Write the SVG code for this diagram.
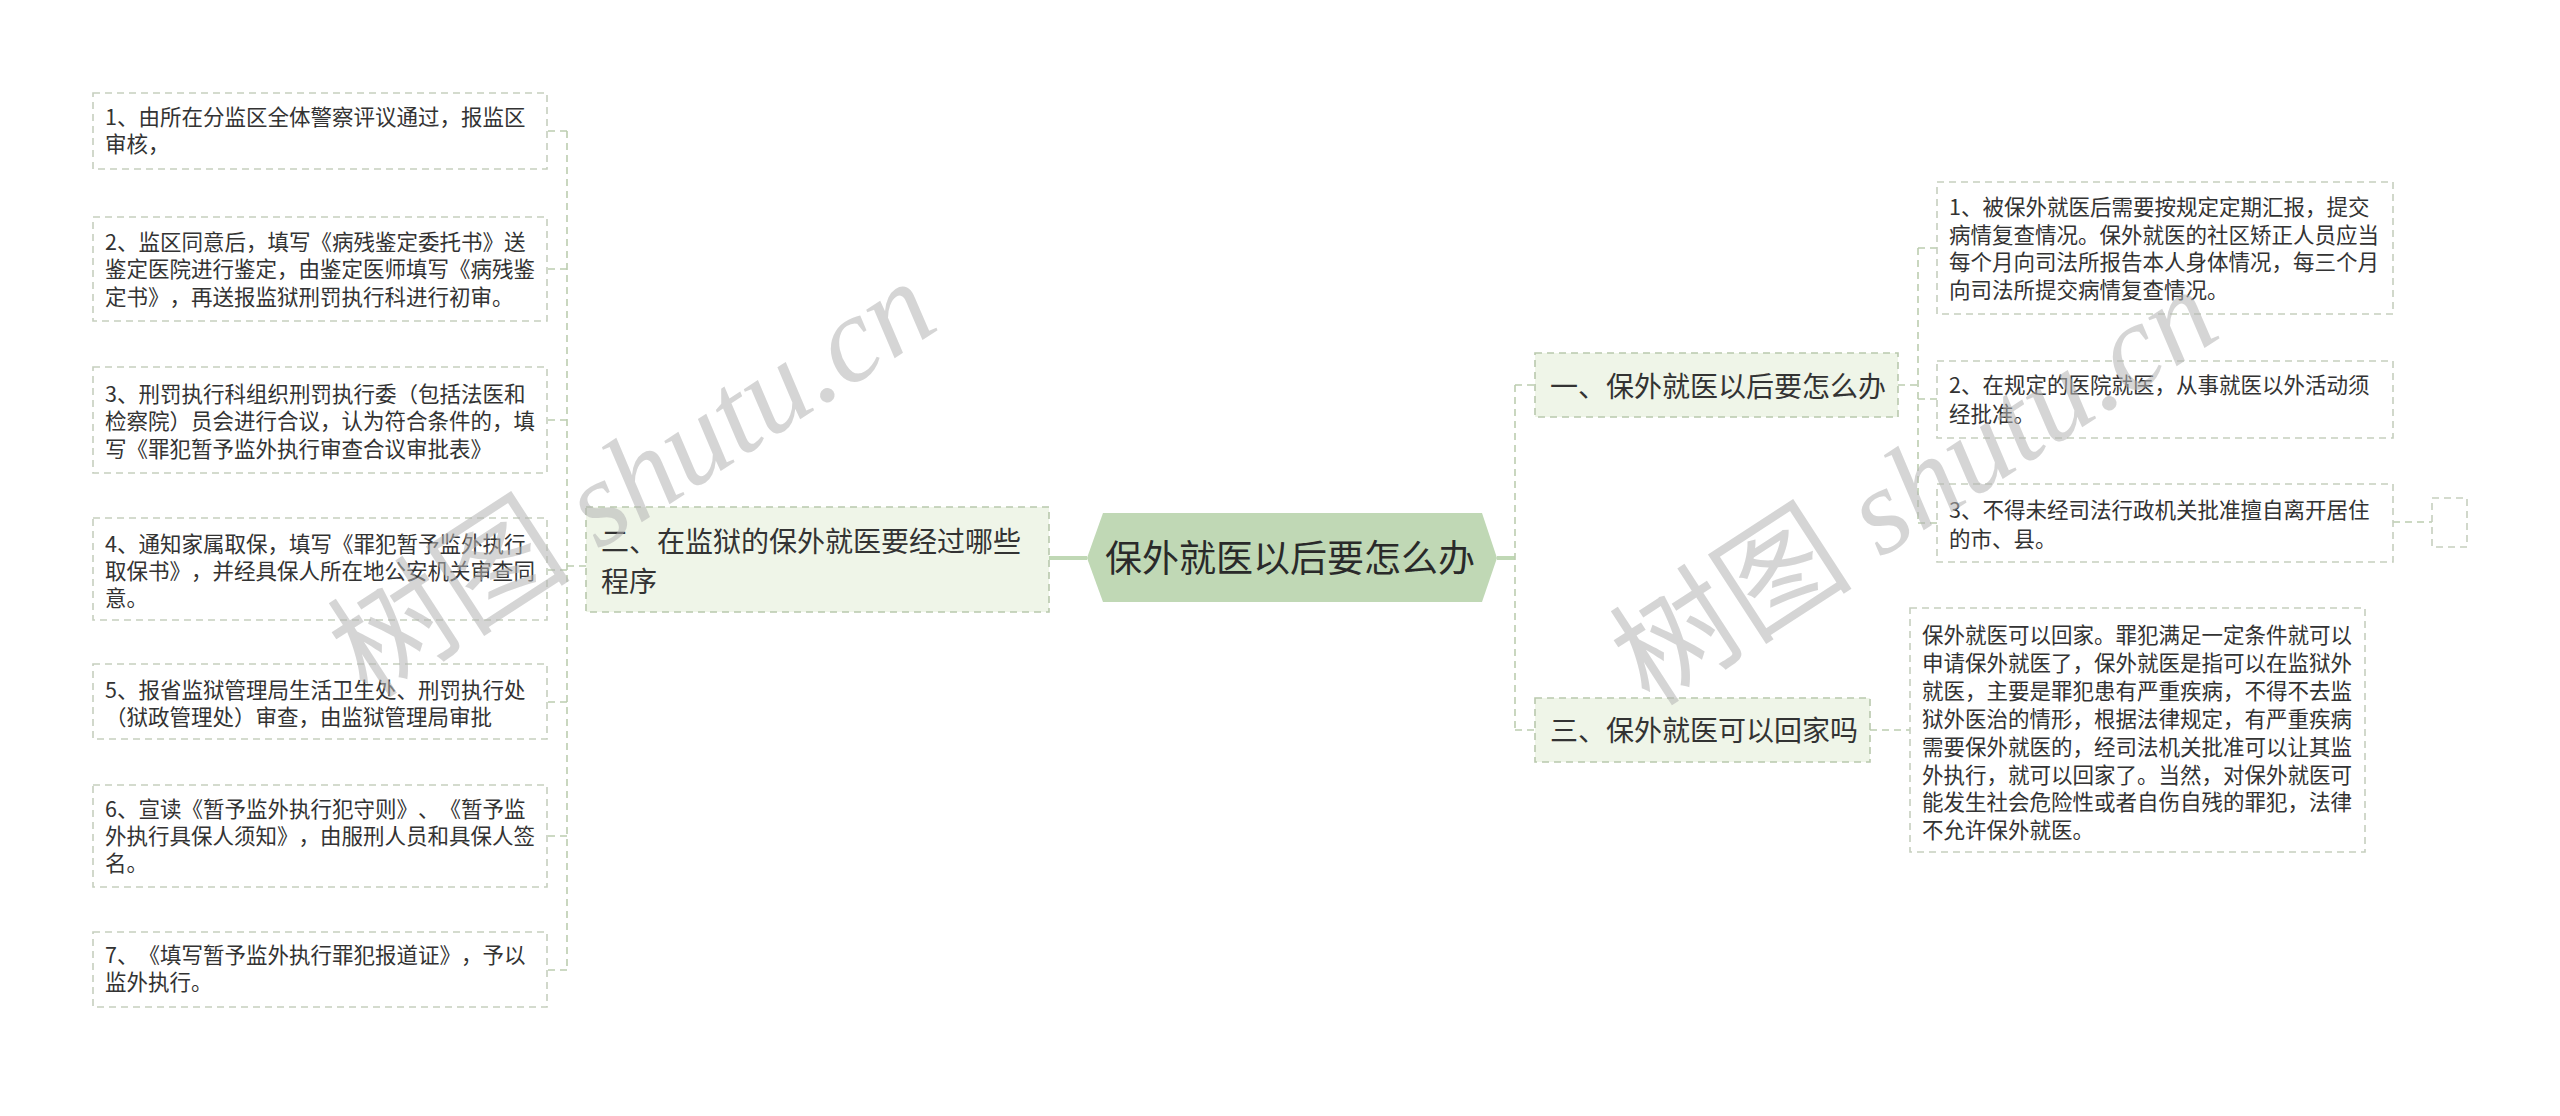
<svg xmlns="http://www.w3.org/2000/svg" width="2560" height="1116" viewBox="0 0 2560 1116">
<style>
text{text-spacing-trim:space-all}
.leaf{fill:#ffffff;stroke:#c6cfbf;stroke-width:1.6;stroke-dasharray:7 5}
.branch{fill:#eff5e8;stroke:#b9c9ad;stroke-width:1.6;stroke-dasharray:7 5}
.lt{font-family:"Noto Sans CJK SC","Noto Sans",sans-serif;font-size:21.5px;fill:#333333}
.bt{font-family:"Noto Sans CJK SC","Noto Sans",sans-serif;font-size:28px;fill:#333333}
.ct{font-family:"Noto Sans CJK SC","Noto Sans",sans-serif;font-size:37px;fill:#2a2a2a}
.dash{fill:none;stroke:#bccdb0;stroke-width:1.6;stroke-dasharray:7 5}
.solid{fill:none;stroke:#c0d8b5;stroke-width:4}
.wm{font-family:"Liberation Serif","Noto Sans CJK SC",serif;font-size:122px;fill:#b4b4b4;opacity:0.55}
</style>

<g id="connectors">
  <path class="solid" d="M1049,558 L1087,558"/>
  <path class="solid" d="M1497,558 L1515,558"/>
  <path class="dash" d="M586,566 L567,566"/>
  <path class="dash" d="M567,131 L567,970"/>
  <path class="dash" d="M567,131 L547,131"/>
  <path class="dash" d="M567,269 L547,269"/>
  <path class="dash" d="M567,420 L547,420"/>
  <path class="dash" d="M567,570 L547,570"/>
  <path class="dash" d="M567,702 L547,702"/>
  <path class="dash" d="M567,836 L547,836"/>
  <path class="dash" d="M567,970 L547,970"/>
  <path class="dash" d="M1515,385 L1515,730"/>
  <path class="dash" d="M1515,385 L1535,385"/>
  <path class="dash" d="M1515,730 L1535,730"/>
  <path class="dash" d="M1898,385 L1918,385"/>
  <path class="dash" d="M1918,248 L1918,523"/>
  <path class="dash" d="M1918,248 L1937,248"/>
  <path class="dash" d="M1918,399 L1937,399"/>
  <path class="dash" d="M1918,523 L1937,523"/>
  <path class="dash" d="M2393,522 L2432,522"/>
  <path class="dash" d="M1870,730 L1910,730"/>
</g>

<g id="center">
  <polygon points="1087,558 1103,513 1482,513 1497,558 1482,602 1103,602" fill="#c0d8b5"/>
  <text class="ct" x="1290" y="572" text-anchor="middle">保外就医以后要怎么办</text>
</g>

<g id="b2">
  <rect class="branch" x="586" y="507" width="463" height="105"/>
  <text class="bt" x="601" y="552">二、在监狱的保外就医要经过哪些</text>
  <text class="bt" x="601" y="592">程序</text>
</g>

<g id="b1">
  <rect class="branch" x="1535" y="353" width="363" height="64"/>
  <text class="bt" x="1550" y="397">一、保外就医以后要怎么办</text>
</g>

<g id="b3">
  <rect class="branch" x="1535" y="698" width="335" height="64"/>
  <text class="bt" x="1550" y="741">三、保外就医可以回家吗</text>
</g>

<g id="l1">
  <rect class="leaf" x="93" y="93" width="454" height="76"/>
  <text class="lt" x="105" y="125">1、由所在分监区全体警察评议通过，报监区</text>
  <text class="lt" x="105" y="152">审核，</text>
</g>
<g id="l2">
  <rect class="leaf" x="93" y="217" width="454" height="104"/>
  <text class="lt" x="105" y="250">2、监区同意后，填写《病残鉴定委托书》送</text>
  <text class="lt" x="105" y="277">鉴定医院进行鉴定，由鉴定医师填写《病残鉴</text>
  <text class="lt" x="105" y="305">定书》，再送报监狱刑罚执行科进行初审。</text>
</g>
<g id="l3">
  <rect class="leaf" x="93" y="367" width="454" height="106"/>
  <text class="lt" x="105" y="402">3、刑罚执行科组织刑罚执行委（包括法医和</text>
  <text class="lt" x="105" y="429">检察院）员会进行合议，认为符合条件的，填</text>
  <text class="lt" x="105" y="457">写《罪犯暂予监外执行审查合议审批表》</text>
</g>
<g id="l4">
  <rect class="leaf" x="93" y="518" width="454" height="102"/>
  <text class="lt" x="105" y="552">4、通知家属取保，填写《罪犯暂予监外执行</text>
  <text class="lt" x="105" y="579">取保书》，并经具保人所在地公安机关审查同</text>
  <text class="lt" x="105" y="606">意。</text>
</g>
<g id="l5">
  <rect class="leaf" x="93" y="664" width="454" height="75"/>
  <text class="lt" x="105" y="698">5、报省监狱管理局生活卫生处、刑罚执行处</text>
  <text class="lt" x="105" y="725">（狱政管理处）审查，由监狱管理局审批</text>
</g>
<g id="l6">
  <rect class="leaf" x="93" y="785" width="454" height="102"/>
  <text class="lt" x="105" y="817">6、宣读《暂予监外执行犯守则》、《暂予监</text>
  <text class="lt" x="105" y="844">外执行具保人须知》，由服刑人员和具保人签</text>
  <text class="lt" x="105" y="871">名。</text>
</g>
<g id="l7">
  <rect class="leaf" x="93" y="932" width="454" height="75"/>
  <text class="lt" x="105" y="963">7、《填写暂予监外执行罪犯报道证》，予以</text>
  <text class="lt" x="105" y="990">监外执行。</text>
</g>

<g id="r1">
  <rect class="leaf" x="1937" y="182" width="456" height="132"/>
  <text class="lt" x="1949" y="215">1、被保外就医后需要按规定定期汇报，提交</text>
  <text class="lt" x="1949" y="243">病情复查情况。保外就医的社区矫正人员应当</text>
  <text class="lt" x="1949" y="270">每个月向司法所报告本人身体情况，每三个月</text>
  <text class="lt" x="1949" y="298">向司法所提交病情复查情况。</text>
</g>
<g id="r2">
  <rect class="leaf" x="1937" y="361" width="456" height="77"/>
  <text class="lt" x="1949" y="393">2、在规定的医院就医，从事就医以外活动须</text>
  <text class="lt" x="1949" y="422">经批准。</text>
</g>
<g id="r3">
  <rect class="leaf" x="1937" y="484" width="456" height="78"/>
  <text class="lt" x="1949" y="518">3、不得未经司法行政机关批准擅自离开居住</text>
  <text class="lt" x="1949" y="547">的市、县。</text>
</g>
<g id="r3a">
  <rect class="leaf" x="2432" y="498" width="35" height="49"/>
</g>
<g id="r4">
  <rect class="leaf" x="1910" y="608" width="455" height="244"/>
  <text class="lt" x="1922" y="643">保外就医可以回家。罪犯满足一定条件就可以</text>
  <text class="lt" x="1922" y="671">申请保外就医了，保外就医是指可以在监狱外</text>
  <text class="lt" x="1922" y="699">就医，主要是罪犯患有严重疾病，不得不去监</text>
  <text class="lt" x="1922" y="727">狱外医治的情形，根据法律规定，有严重疾病</text>
  <text class="lt" x="1922" y="755">需要保外就医的，经司法机关批准可以让其监</text>
  <text class="lt" x="1922" y="783">外执行，就可以回家了。当然，对保外就医可</text>
  <text class="lt" x="1922" y="810">能发生社会危险性或者自伤自残的罪犯，法律</text>
  <text class="lt" x="1922" y="838">不允许保外就医。</text>
</g>

<g id="watermarks">
  <text class="wm" transform="translate(368,700) rotate(-33)">树图 <tspan font-style="italic">shutu.cn</tspan></text>
  <text class="wm" transform="translate(1650,708) rotate(-33)">树图 <tspan font-style="italic">shutu.cn</tspan></text>
</g>
</svg>
